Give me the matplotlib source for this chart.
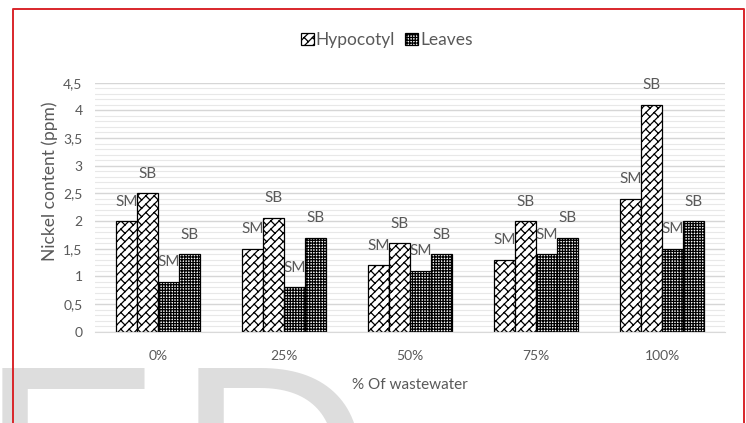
import warnings
import numpy as np
import matplotlib
matplotlib.use("Agg")
import matplotlib.pyplot as plt
from matplotlib import hatch as mhatch
from matplotlib.path import Path
from matplotlib.patches import Patch
from matplotlib.lines import Line2D

warnings.filterwarnings("ignore", message=".*hatch must consist.*")

# ---- data -------------------------------------------------------------
categories = ["0%", "25%", "50%", "75%", "100%"]
hypocotyl_sm = [2.0, 1.5, 1.2, 1.3, 2.4]
hypocotyl_sb = [2.5, 2.06, 1.6, 2.0, 4.1]
leaves_sm = [0.9, 0.8, 1.1, 1.4, 1.5]
leaves_sb = [1.4, 1.7, 1.4, 1.7, 2.0]
y_ticks = [0, 0.5, 1, 1.5, 2, 2.5, 3, 3.5, 4, 4.5]


# ---- diagonal brick hatch ('b') ---------------------------------------
class DiagonalBrickHatch(mhatch.HatchPatternBase):
    """Bricks running up-right: long '/' lines joined by short '\\' ties."""

    rows = 12      # '/' lines per hatch tile (also ties per line)

    def __init__(self, hatch, density):
        self.active = "b" in hatch
        if self.active:
            self.offsets = np.arange(-self.rows, self.rows + 1) / self.rows
            n_long = len(self.offsets)
            n_ties = len(self.offsets) * (self.rows + 1)
            self.num_lines = n_long + n_ties
        else:
            self.num_lines = 0
        self.num_vertices = self.num_lines * 2

    def set_vertices_and_codes(self, vertices, codes):
        segs = []
        half = 1.0 / (2 * self.rows)
        for c in self.offsets:
            segs.append(((0.0, c), (1.0, 1.0 + c)))
            # ties sit at the same x on every line, which staggers the
            # bricks by half a length from one row to the next
            for j in range(self.rows + 1):
                xt = j / self.rows
                segs.append(((xt, xt + c), (xt - half, xt + c + half)))
        segs = np.array(segs)
        vertices[0::2] = segs[:, 0]
        vertices[1::2] = segs[:, 1]
        codes[0::2] = Path.MOVETO
        codes[1::2] = Path.LINETO


mhatch._hatch_types.append(DiagonalBrickHatch)

HYPO_HATCH = "b"
LEAF_HATCH = "++++++"

# ---- figure -----------------------------------------------------------
plt.rcParams["font.family"] = ["Lato", "DejaVu Sans"]
plt.rcParams["hatch.linewidth"] = 0.9
plt.rcParams["hatch.color"] = "black"

W, H = 746, 423
fig = plt.figure(figsize=(W / 100, H / 100), dpi=100)
fig.patch.set_facecolor("white")

# large grey lettering along the bottom edge
wm_color = "#dddddd"
base_y = 1 - (368 + 187) / H
fig.text(-20 / W, base_y, "E", fontsize=196, family="Liberation Sans",
         color=wm_color, ha="left", va="baseline", zorder=0)
fig.text(176 / W, base_y, "D", fontsize=196, family="Liberation Sans",
         color=wm_color, ha="left", va="baseline", zorder=0)

ax = fig.add_axes([95 / W, 1 - 331.7 / H, 630 / W, 249 / H])
ax.set_facecolor("none")

x = np.arange(len(categories))
w = 0.1667
series = [
    (hypocotyl_sm, HYPO_HATCH, "SM"),
    (hypocotyl_sb, HYPO_HATCH, "SB"),
    (leaves_sm, LEAF_HATCH, "SM"),
    (leaves_sb, LEAF_HATCH, "SB"),
]
text_grey = "#595959"
for i, (vals, hatch, tag) in enumerate(series):
    pos = x + (i - 1.5) * w
    ax.bar(pos, vals, width=w, color="white", edgecolor="black",
           linewidth=0.9, hatch=hatch, zorder=2)
    for px, v in zip(pos, vals):
        ax.annotate(tag, (px, v), xytext=(0, 14), textcoords="offset points",
                    ha="center", va="center", fontsize=11, color=text_grey,
                    zorder=3)

ax.set_xlim(-0.5, len(categories) - 0.5)
ax.set_ylim(0, 4.5)
ax.set_xticks(x)
ax.set_xticklabels(categories)
ax.set_yticks(y_ticks)
ax.set_yticklabels([f"{v:g}".replace(".", ",") for v in y_ticks])
ax.set_yticks(np.arange(0, 4.5001, 0.1), minor=True)

ax.grid(axis="y", which="major", color="#d6d6d6", linewidth=1.0, zorder=0)
ax.grid(axis="y", which="minor", color="#e8e8e8", linewidth=0.8, zorder=0)
ax.set_axisbelow(True)
for s in ("top", "right", "left"):
    ax.spines[s].set_visible(False)
ax.spines["bottom"].set_color("#d9d9d9")
ax.tick_params(axis="both", which="both", length=0, labelsize=10,
               labelcolor=text_grey)
ax.tick_params(axis="y", pad=9)
ax.tick_params(axis="x", pad=13)

ax.set_ylabel("Nickel content (ppm)", fontsize=12.5, color=text_grey,
              va="center")
ax.yaxis.set_label_coords(-0.072, 0.603)
ax.set_xlabel("% Of wastewater", fontsize=11, color=text_grey, va="center")
ax.xaxis.set_label_coords(0.5, -0.214)

handles = [
    Patch(facecolor="white", edgecolor="black", hatch=HYPO_HATCH, lw=0.9),
    Patch(facecolor="white", edgecolor="black", hatch=LEAF_HATCH, lw=0.9),
]
fig.legend(handles, ["Hypocotyl", "Leaves"], loc="center",
           bbox_to_anchor=(386.5 / W, 1 - 40 / H), ncol=2, frameon=False,
           handlelength=0.75, handleheight=0.75, handletextpad=0.1,
           columnspacing=0.6, fontsize=12.5, labelcolor=text_grey,
           borderpad=0)

# red frame running off the bottom edge
fx = [12.5 / W, 12.5 / W, 743.5 / W, 743.5 / W]
fy = [-0.05, 1 - 9 / H, 1 - 9 / H, -0.05]
fig.add_artist(Line2D(fx, fy, transform=fig.transFigure, color="#d9262b",
                      linewidth=1.4, zorder=10))

fig.savefig("out.png", dpi=100)
